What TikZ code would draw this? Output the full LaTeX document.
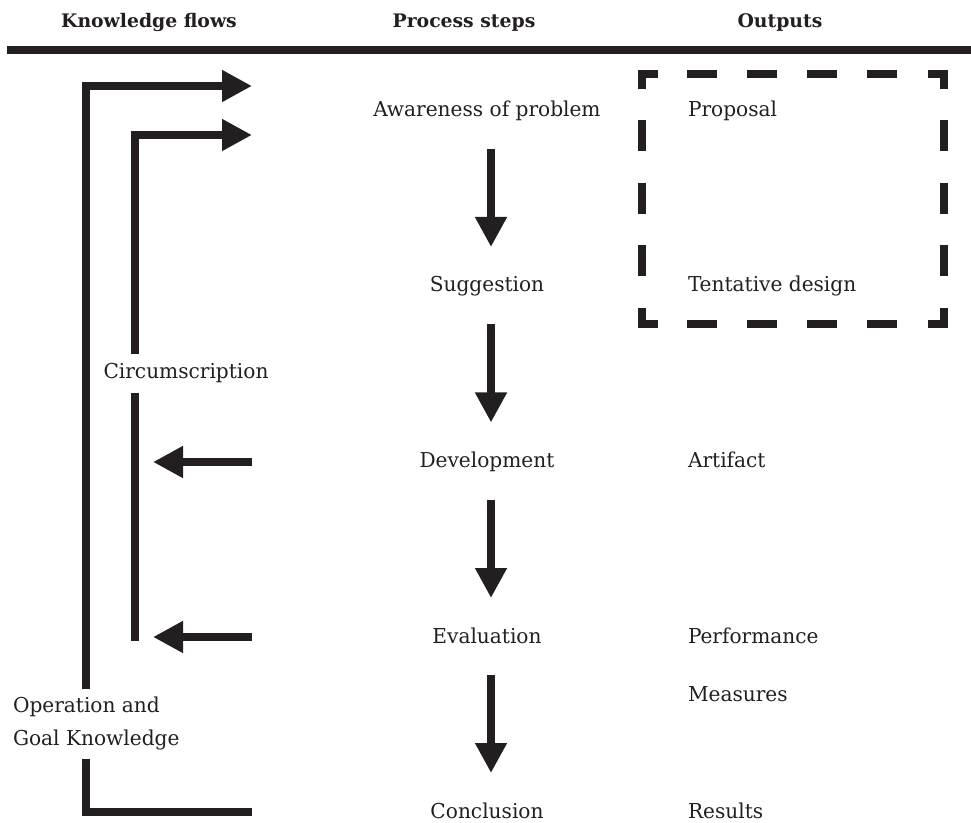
\documentclass[tikz,border=0pt]{standalone}
\usepackage{fontspec}
\setmainfont{DejaVu Serif Condensed}[FakeStretch=1.09]
\newfontfamily\headfont{DejaVu Serif Condensed}[FakeStretch=1.12]
\usetikzlibrary{arrows.meta}
\definecolor{ink}{HTML}{231F20}
\begin{document}
\begin{tikzpicture}[x=0.75pt,y=-0.75pt,
  every node/.style={inner sep=0pt, outer sep=0pt},
  txt/.style={font=\fontsize{15.4}{24.75}\selectfont, text=ink},
  hdr/.style={font=\headfont\fontsize{14}{17}\selectfont\bfseries, text=ink, anchor=base},
  stepnode/.style={txt, anchor=base},
  outnode/.style={txt, anchor=base west},
  bar/.style={line width=6pt, draw=ink, line join=miter},
  flow/.style={bar, -{Triangle[length=22.5pt, width=22.5pt]}},
  dashbar/.style={line width=5.6pt, draw=ink, line join=miter},
]
\useasboundingbox (0,0) rectangle (971,823);

% column headings and rule
\node[hdr] (h-know) at (149,28) {Knowledge flows};
\node[hdr] (h-proc) at (464,28) {Process steps};
\node[hdr] (h-out)  at (780,28) {Outputs};
\coordinate (rule-l) at (7,50);
\coordinate (rule-r) at (971,50);
\draw[bar] (rule-l) -- (rule-r);

% process steps
\node[stepnode] (aw) at (487,117)   {Awareness of problem};
\node[stepnode] (sg) at (487,292)   {Suggestion};
\node[stepnode] (dv) at (487,467.5) {Development};
\node[stepnode] (ev) at (487,643)   {Evaluation};
\node[stepnode] (cc) at (487,818)   {Conclusion};

\foreach \a/\b in {aw/sg, sg/dv, dv/ev, ev/cc}
  \draw[flow] ([xshift=3pt,yshift=-24pt]\a.base) -- ([xshift=3pt,yshift=33.75pt]\b.base);

% outputs
\node[outnode] (o-prop) at (688,117)   {Proposal};
\node[outnode] (o-tent) at (688,292)   {Tentative design};
\node[outnode] (o-art)  at (688,467.5) {Artifact};
\node[outnode] (o-perf) at (688,643)   {Performance};
\node[outnode] (o-meas) at (688,701)   {Measures};
\node[outnode] (o-res)  at (688,818)   {Results};

% dashed frame around proposal and tentative design
\draw[dashbar] (642,89) -- (642,74) -- (658,74);
\draw[dashbar] (928,74) -- (944,74) -- (944,89);
\draw[dashbar] (642,308) -- (642,324) -- (658,324);
\draw[dashbar] (928,324) -- (944,324) -- (944,308);
\foreach \x in {687,747,807,867} {
  \draw[dashbar] (\x,74) -- (\x+30,74);
  \draw[dashbar] (\x,324) -- (\x+30,324);
}
\foreach \y in {120,183,245} {
  \draw[dashbar] (642,\y) -- (642,\y+31);
  \draw[dashbar] (944,\y) -- (944,\y+31);
}

% knowledge flows
\node[txt, anchor=base] (circ) at (186,379) {Circumscription};
\node[txt, anchor=west, align=left] (ogk) at (13,723.7) {Operation and\\Goal Knowledge};

\coordinate (k-in1) at (252,86);
\coordinate (k-in2) at (252,135);
\coordinate (og-top) at (86,689);
\coordinate (og-bot) at (86,759);
\coordinate (k-end) at (252,811.5);
\coordinate (ci-top) at (135,354);
\coordinate (ci-bot) at (135,393);
\coordinate (ci-end) at (135,641);
\coordinate (dv-from) at (252,462);
\coordinate (dv-to) at (153,462);
\coordinate (ev-from) at (252,637);
\coordinate (ev-to) at (153,637);

\draw[flow] (og-top) |- (k-in1);
\draw[bar] (og-bot) |- (k-end);
\draw[flow] (ci-top) |- (k-in2);
\draw[bar] (ci-bot) -- (ci-end);
\draw[flow] (dv-from) -- (dv-to);
\draw[flow] (ev-from) -- (ev-to);
\end{tikzpicture}
\end{document}
